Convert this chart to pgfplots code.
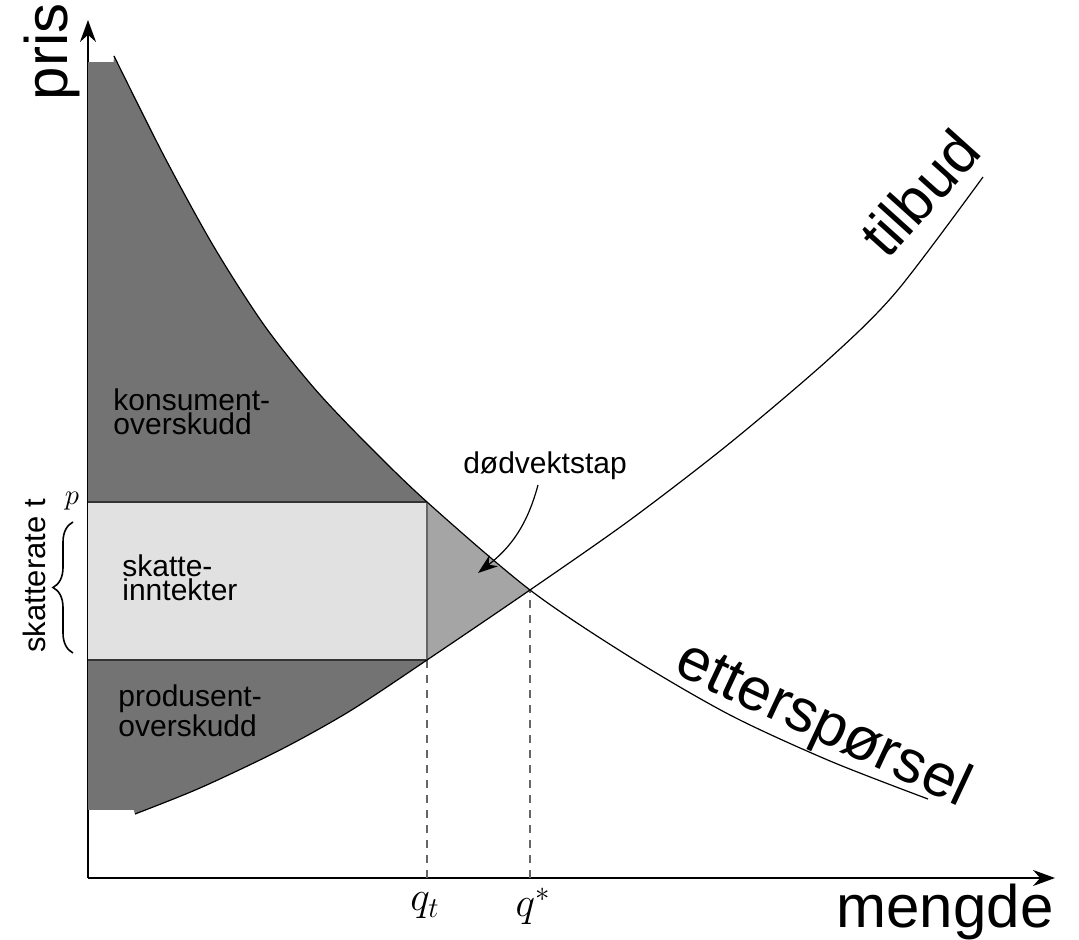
\documentclass[border=0pt]{standalone}
\usepackage{fontspec}
\setmainfont{Liberation Sans}
\usepackage{pgfplots}
\pgfplotsset{compat=1.18}
\usepackage{pgfplotstable}
\usepgfplotslibrary{fillbetween}
\usetikzlibrary{arrows.meta,decorations.pathreplacing}
\definecolor{dgray}{RGB}{115,115,115}
\definecolor{mgray}{RGB}{165,165,165}
\definecolor{lgray}{RGB}{225,225,225}

\pgfplotstableread{
x y
26 822
76 722
126 631
176 553
226 490
276 437
339 376
442 288
542 221
642 163
742 117
840 79
}\demand

\pgfplotstableread{
x y
47 64
112 90
192 128
262 167
339 218
442 288
542 358
642 435
742 520
809 587
895 701
}\supply

\begin{document}
\begin{tikzpicture}
\begin{axis}[
  x=0.5pt, y=0.5pt,
  xmin=0, xmax=967, ymin=0, ymax=858,
  axis lines=left, ticks=none, clip=false,
  axis line style={line width=0.9pt, -{Stealth[length=11pt,width=8pt]}},
]
% invisible paths
\addplot[draw=none, name path=D, smooth, tension=0.5] table {\demand};
\addplot[draw=none, name path=S, smooth, tension=0.5] table {\supply};
\addplot[draw=none, name path=PT] coordinates {(0,376) (339,376)};
\addplot[draw=none, name path=PB] coordinates {(0,218) (339,218)};

% consumer surplus
\addplot[fill=dgray, draw=none] fill between[of=D and PT, soft clip={domain=0:339}];
\addplot[fill=dgray, draw=none] coordinates {(0,376) (0,816) (27,816) (27,376)} -- cycle;
% dead weight loss
\addplot[fill=mgray, draw=none] fill between[of=D and S, soft clip={domain=339:442}];
% producer surplus
\addplot[fill=dgray, draw=none] fill between[of=S and PB, soft clip={domain=0:339}];
\addplot[fill=dgray, draw=none] coordinates {(0,68) (0,218) (48,218) (48,68)} -- cycle;
% tax revenue
\addplot[fill=lgray, draw=none] coordinates {(0,218) (0,376) (339,376) (339,218)} -- cycle;

\addplot[black!80, line width=0.8pt] coordinates {(0,376) (339,376)};
\addplot[black!80, line width=0.8pt] coordinates {(0,218) (339,218)};
\addplot[black!60, line width=0.8pt] coordinates {(339,218) (339,376)};

% dashed guides
\addplot[black!60, line width=0.7pt, dash pattern=on 4pt off 3.5pt] coordinates {(339,0) (339,218)};
\addplot[black!60, line width=0.7pt, dash pattern=on 4pt off 3.5pt] coordinates {(442,0) (442,288)};

% curves
\addplot[black, line width=0.6pt, smooth, tension=0.5] table {\demand};
\addplot[black, line width=0.6pt, smooth, tension=0.5] table {\supply};

% labels
\node[rotate=90, anchor=base, font=\fontsize{30}{30}\selectfont] at (axis cs:-21,826) {pris};
\node[anchor=base, font=\fontsize{30}{30}\selectfont] at (axis cs:857,-49) {mengde};
\node[rotate=48, anchor=base west, font=\fontsize{30}{30}\selectfont] at (axis cs:795,612) {tilbud};
\node[rotate=-25, anchor=base west, font=\fontsize{30}{30}\selectfont] at (axis cs:578,208) {etterspørsel};

\node[font=\fontsize{15}{15}\selectfont] at (axis cs:457,412) {dødvektstap};
\draw[-{Stealth[length=10pt,width=7pt]}, line width=0.6pt] (axis cs:450,393) to[out=-105,in=38] (axis cs:390,305);

\node[anchor=west, align=left, inner sep=0pt, font=\fontsize{15}{10.5}\selectfont] at (axis cs:25,466) {konsument-\\overskudd};
\node[anchor=west, align=left, inner sep=0pt, font=\fontsize{15}{10.5}\selectfont] at (axis cs:34,300) {skatte-\\inntekter};
\node[anchor=west, align=left, inner sep=0pt, font=\fontsize{15}{10.5}\selectfont] at (axis cs:30,167) {produsent-\\overskudd};

\node[rotate=90, anchor=base, font=\fontsize{15.5}{15.5}\selectfont] at (axis cs:-43,302) {skatterate t};
\draw[decorate, decoration={brace, amplitude=10pt}, line width=0.8pt] (axis cs:-15,225) -- (axis cs:-15,356);
\node[font=\fontsize{15}{15}\selectfont] at (axis cs:-16,377) {$p$};

\node[font=\fontsize{22}{22}\selectfont] at (axis cs:337,-28) {$q_t$};
\node[font=\fontsize{22}{22}\selectfont] at (axis cs:445,-28) {$q^*$};
\end{axis}
\pgfresetboundingbox
\path (-44pt,-31pt) rectangle (495.5pt,439pt);
\end{tikzpicture}
\end{document}
